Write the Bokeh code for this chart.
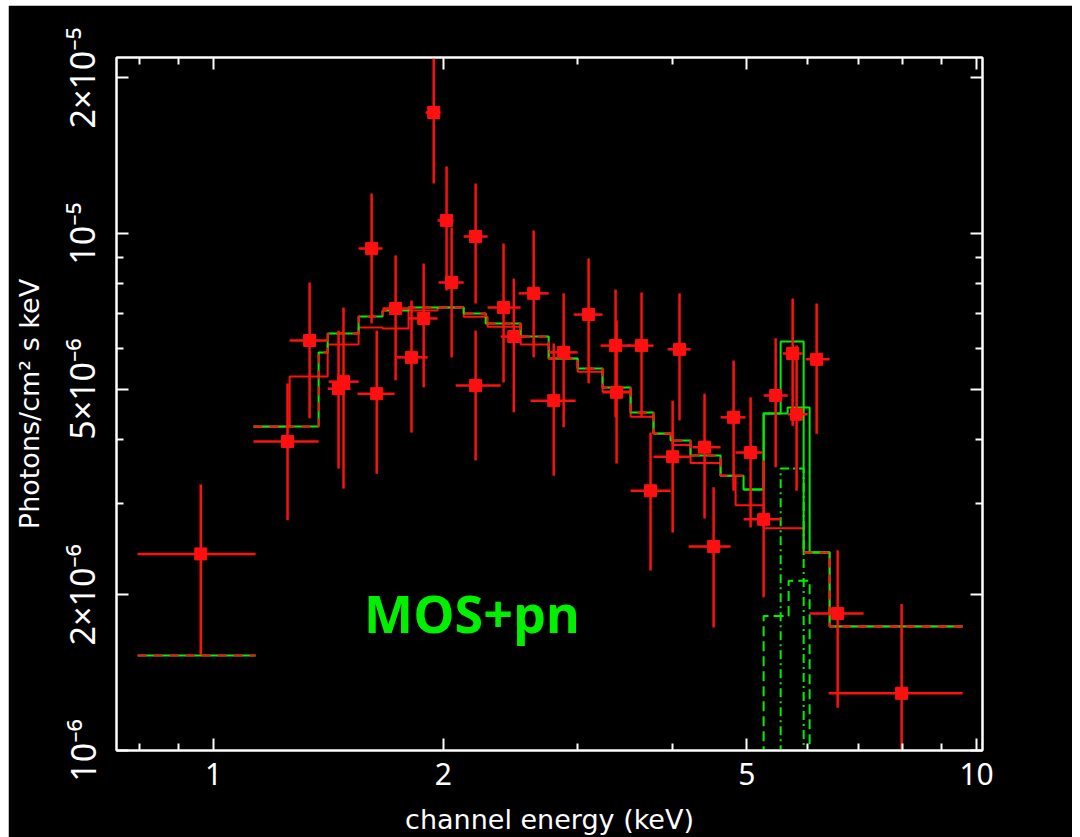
import numpy as np
from bokeh.plotting import figure
from bokeh.models import FixedTicker, LogAxis, Label, Spacer
from bokeh.layouts import row, column
from bokeh.embed import file_html
from bokeh.resources import INLINE

SCALE = 1e-6  # flux values below are in units of 1e-6 photons/cm^2/s/keV

# ---- observed spectrum (red crosses) ----
x_c = [0.962, 1.250, 1.336, 1.458, 1.480, 1.611, 1.636, 1.732, 1.817, 1.885, 1.943, 2.020, 2.051, 2.205, 2.205,
       2.399, 2.474, 2.627, 2.791, 2.876, 3.101, 3.364, 3.374, 3.638, 4.080, 3.738, 3.996, 4.400, 4.522, 4.803,
       5.056, 5.259, 5.453, 5.740, 5.809, 6.171, 6.575, 7.975]
x_lo = [0.795, 1.128, 1.258, 1.411, 1.415, 1.549, 1.544, 1.665, 1.737, 1.801, 1.896, 1.966, 1.972, 2.127, 2.076,
        2.286, 2.378, 2.511, 2.603, 2.749, 2.964, 3.215, 3.234, 3.488, 3.936, 3.520, 3.772, 4.244, 4.194, 4.618,
        4.832, 4.950, 5.259, 5.570, 5.654, 5.970, 6.042, 6.399]
x_hi = [1.135, 1.373, 1.411, 1.512, 1.549, 1.665, 1.727, 1.801, 1.908, 1.966, 1.984, 2.063, 2.127, 2.286, 2.378,
        2.526, 2.564, 2.749, 2.982, 3.000, 3.234, 3.520, 3.520, 3.772, 4.218, 3.972, 4.218, 4.618, 4.760, 4.980,
        5.243, 5.536, 5.654, 5.916, 6.006, 6.418, 7.111, 9.587]
y_c = [2.40, 3.96, 6.21, 5.01, 5.17, 9.35, 4.90, 7.16, 5.76, 6.85, 17.14, 10.60, 8.04, 9.87, 5.08,
       7.19, 6.32, 7.66, 4.75, 5.89, 6.97, 6.07, 4.93, 6.07, 5.97, 3.18, 3.70, 3.86, 2.48, 4.41,
       3.77, 2.80, 4.86, 5.86, 4.47, 5.71, 1.84, 1.29]
y_lo = [1.53, 2.79, 4.39, 3.51, 3.21, 6.70, 3.43, 5.20, 4.12, 5.04, 12.49, 7.76, 5.76, 7.32, 3.64,
        5.15, 4.51, 5.76, 3.40, 4.22, 5.13, 4.41, 3.59, 4.41, 4.35, 2.23, 2.64, 2.81, 1.73, 3.18,
        2.70, 1.98, 3.53, 4.25, 3.18, 4.10, 1.21, 0.80]
y_hi = [3.27, 5.13, 8.04, 6.49, 7.19, 11.95, 6.49, 9.07, 7.42, 8.75, 23.0, 13.48, 10.27, 12.49, 6.49,
        9.56, 8.18, 10.13, 6.13, 7.66, 8.95, 7.79, 6.79, 7.69, 7.66, 4.12, 4.75, 4.90, 3.23, 5.68,
        4.82, 3.64, 6.27, 7.49, 6.07, 7.32, 2.44, 1.92]

# ---- folded model A (total model, green) ----
a_lo = [0.795, 1.128, 1.373, 1.411, 1.549, 1.665, 1.801, 2.127, 2.273, 2.526, 2.749, 3.000, 3.234, 3.520,
        3.772, 3.972, 4.218, 4.618, 4.950, 5.259, 5.536, 5.934, 6.418]
a_hi = [1.135, 1.373, 1.411, 1.549, 1.665, 1.801, 2.127, 2.273, 2.526, 2.749, 3.000, 3.234, 3.520, 3.772,
        3.972, 4.218, 4.618, 4.950, 5.259, 5.536, 5.934, 6.418, 9.587]
a_val = [1.527, 4.234, 5.886, 6.406, 6.910, 7.097, 7.193, 7.003, 6.699, 6.321, 5.731, 5.483, 5.036, 4.506,
         4.104, 3.977, 3.721, 3.400, 3.198, 4.486, 6.182, 2.415, 1.737]

# ---- folded model B (red) ----
b_lo = [1.128, 1.258, 1.411, 1.549, 1.665, 1.801, 1.966, 2.127, 2.286, 2.526, 2.749, 3.000, 3.234, 3.520,
        3.772, 3.996, 4.218, 4.618, 4.832, 5.259, 5.934, 6.418]
b_hi = [1.258, 1.411, 1.549, 1.665, 1.801, 1.966, 2.127, 2.286, 2.526, 2.749, 3.000, 3.234, 3.520, 3.772,
        3.996, 4.218, 4.618, 4.832, 5.259, 5.934, 6.418, 9.587]
b_val = [4.23, 5.29, 6.10, 6.58, 6.55, 7.10, 7.19, 6.90, 6.60, 6.10, 5.73, 5.40, 4.95, 4.42,
         4.10, 3.90, 3.60, 3.40, 2.98, 2.69, 2.42, 1.74]

# ---- second total model around the Fe line (green) ----
c_lo = [4.950, 5.259, 5.654, 6.042]
c_hi = [5.259, 5.654, 6.042, 6.418]
c_val = [3.198, 4.486, 4.607, 2.415]

# ---- line components (green dashed / dash-dot) ----
k1_lo = [5.536]
k1_hi = [5.934]
k1_val = [3.51]
k2_lo = [5.259, 5.671]
k2_hi = [5.671, 6.042]
k2_val = [1.82, 2.13]

xtick_vals = [1, 2, 5, 10]
xtick_labels = ["1", "2", "5", "10"]
xminor_vals = [0.8, 0.9, 3, 4, 6, 7, 8, 9]
ytick_vals = [1e-6, 2e-6, 5e-6, 1e-5, 2e-5]
ytick_labels = ["10\u207b\u2076", "2\u00d710\u207b\u2076", "5\u00d710\u207b\u2076", "10\u207b\u2075", "2\u00d710\u207b\u2075"]
yminor_vals = [3e-6, 4e-6, 6e-6, 7e-6, 8e-6, 9e-6]

RED = "#ff1010"
GREEN = "#00f000"
FONT = "Noto Sans"
LABEL_FONT = "DejaVu Sans"


def step_path(lo, hi, val, mask=None):
    xs, ys = [], []
    prev_hi = None
    for i in range(len(lo)):
        if mask is not None and not mask[i]:
            prev_hi = None
            continue
        if prev_hi is not None and abs(np.log10(lo[i]) - np.log10(prev_hi)) > 1e-4:
            xs.append(np.nan); ys.append(np.nan)
        elif prev_hi is None and xs:
            xs.append(np.nan); ys.append(np.nan)
        xs += [lo[i], hi[i]]
        ys += [val[i] * SCALE, val[i] * SCALE]
        prev_hi = hi[i]
    return xs, ys


def comp_path(lo, hi, val, floor=0.5):
    xs, ys = [lo[0]], [floor * SCALE]
    for i in range(len(lo)):
        xs += [lo[i], hi[i]]
        ys += [val[i] * SCALE, val[i] * SCALE]
    xs.append(hi[-1]); ys.append(floor * SCALE)
    return xs, ys


p = figure(width=1064, height=832, x_axis_type="log", y_axis_type="log",
           x_range=(0.746, 10.18), y_range=(1e-6, 2.19e-5),
           background_fill_color="black", border_fill_color="black",
           outline_line_color="white", outline_line_width=2,
           min_border_left=108, min_border_right=90, min_border_top=52, min_border_bottom=87,
           output_backend="svg", toolbar_location=None)
p.grid.visible = False

# axes styling
for ax, ticks, minors, labels in ((p.xaxis[0], xtick_vals, xminor_vals, xtick_labels),
                                  (p.yaxis[0], ytick_vals, yminor_vals, ytick_labels)):
    ax.ticker = FixedTicker(ticks=ticks, minor_ticks=minors)
    ax.major_label_overrides = {v: s for v, s in zip(ticks, labels)}
    ax.axis_line_color = "white"
    ax.axis_line_width = 2
    ax.major_tick_line_color = "white"
    ax.minor_tick_line_color = "white"
    ax.major_tick_line_width = 2
    ax.minor_tick_line_width = 2
    ax.major_tick_in = 12
    ax.major_tick_out = 0
    ax.minor_tick_in = 7
    ax.minor_tick_out = 0
    ax.major_label_text_color = "white"
    ax.major_label_text_font = FONT
    ax.major_label_text_font_size = "30px"
    ax.axis_label_text_color = "white"
    ax.axis_label_text_font = LABEL_FONT
    ax.axis_label_text_font_size = "27px"
    ax.axis_label_text_font_style = "normal"

p.xaxis.axis_label = "channel energy (keV)"
p.xaxis.major_label_text_line_height = 1.0
p.xaxis.axis_label_text_line_height = 1.0
p.xaxis.major_label_standoff = 12
p.xaxis.axis_label_standoff = 16
p.yaxis.axis_label = "Photons/cm\u00b2 s keV"
p.yaxis.major_label_orientation = "vertical"
p.yaxis.major_label_text_font_size = "34px"
p.yaxis.major_label_standoff = 11
p.yaxis.axis_label_standoff = 12

# mirrored axes (ticks only)
for loc, ticks, minors in (("above", xtick_vals, xminor_vals), ("right", ytick_vals, yminor_vals)):
    ax = LogAxis(ticker=FixedTicker(ticks=ticks, minor_ticks=minors))
    ax.axis_line_color = "white"
    ax.axis_line_width = 2
    ax.major_tick_line_color = "white"
    ax.minor_tick_line_color = "white"
    ax.major_tick_line_width = 2
    ax.minor_tick_line_width = 2
    ax.major_tick_in = 12
    ax.major_tick_out = 0
    ax.minor_tick_in = 7
    ax.minor_tick_out = 0
    ax.major_label_text_font_size = "0px"
    ax.major_label_text_color = None
    p.add_layout(ax, loc)

# models
bx, by = step_path(b_lo, b_hi, b_val)
p.line(bx, by, line_color=RED, line_width=2)
ax_, ay_ = step_path(a_lo, a_hi, a_val)
p.line(ax_, ay_, line_color=GREEN, line_width=2)
cx, cy = step_path(c_lo, c_hi, c_val)
p.line(cx, cy, line_color=GREEN, line_width=2)
mask = [(h <= 4.95 or l >= 5.934) for l, h in zip(a_lo, a_hi)]
ox, oy = step_path(a_lo, a_hi, a_val, mask)
p.line(ox, oy, line_color=RED, line_width=2, line_dash="9 7")
k1x, k1y = comp_path(k1_lo, k1_hi, k1_val)
p.line(k1x, k1y, line_color=GREEN, line_width=2, line_dash="9 4 2 4")
k2x, k2y = comp_path(k2_lo, k2_hi, k2_val)
p.line(k2x, k2y, line_color=GREEN, line_width=2, line_dash="10 5")

# data with error bars
yc = np.array(y_c) * SCALE
p.segment(x0=x_lo, y0=yc, x1=x_hi, y1=yc, line_color=RED, line_width=2.5)
p.segment(x0=x_c, y0=np.array(y_lo) * SCALE, x1=x_c, y1=np.array(y_hi) * SCALE, line_color=RED, line_width=2.5)
p.scatter(x_c, yc, size=12, marker="square", fill_color=RED, line_color=RED)

p.add_layout(Label(x=1.575, y=1.85e-6, text="MOS+pn", text_color=GREEN, text_font="Open Sans",
                   text_font_style="bold", text_font_size="52px", text_baseline="middle"))

root = row(Spacer(width=8), column(Spacer(height=5), p))
html = file_html(root, INLINE)
html = html.replace("<body>", '<body style="margin:0;background:linear-gradient(90deg,#c4dcf6,#d2e6fb);">', 1)
open("out.html", "w").write(html)
